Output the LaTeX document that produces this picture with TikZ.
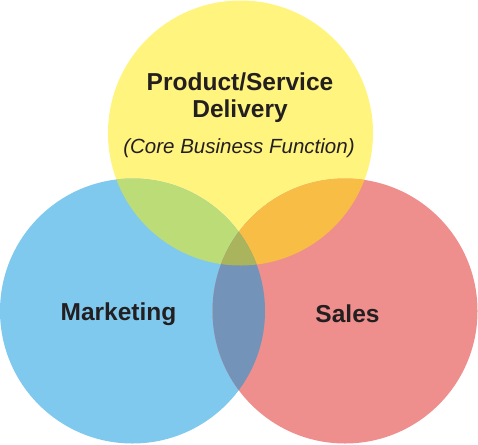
\documentclass[tikz,border=0pt]{standalone}
\usepackage{fontspec}
\setmainfont{Liberation Sans}
\definecolor{cyel}{HTML}{FFF47E}
\definecolor{cblu}{HTML}{7FC9EF}
\definecolor{cred}{HTML}{EE8F8D}
\definecolor{cgrn}{HTML}{BCDC77}
\definecolor{cora}{HTML}{F7BD45}
\definecolor{cslt}{HTML}{7393B8}
\definecolor{cmid}{HTML}{A9B45C}
\definecolor{ctxt}{HTML}{231F20}
\tikzset{lbl/.style={text=ctxt,font=\bfseries\fontsize{24.5}{28}\selectfont,align=center},
sub/.style={text=ctxt,font=\itshape\fontsize{20.5}{24}\selectfont}}
\begin{document}
\begin{tikzpicture}[x=1pt,y=-1pt]
\useasboundingbox (0,0) rectangle (478,444);
\def\R{132.5}
\coordinate (Y) at (240.5,133);
\coordinate (B) at (132.5,311);
\coordinate (S) at (345,311);
\fill[cyel] (Y) circle (\R);
\fill[cblu] (B) circle (\R);
\fill[cred] (S) circle (\R);
\begin{scope}\clip (Y) circle (\R); \fill[cgrn] (B) circle (\R); \end{scope}
\begin{scope}\clip (Y) circle (\R); \fill[cora] (S) circle (\R); \end{scope}
\begin{scope}\clip (B) circle (\R); \fill[cslt] (S) circle (\R); \end{scope}
\begin{scope}\clip (Y) circle (\R); \clip (B) circle (\R); \fill[cmid] (S) circle (\R); \end{scope}
\node[lbl] (pd) at (240,98) {Product/Service\\[-1pt]Delivery};
\node[sub] (core) at (239,148) {(Core Business Function)};
\node[lbl] (mk) at (118.5,314) {Marketing};
\node[lbl] (sl) at (347.5,314) {Sales};
\end{tikzpicture}
\end{document}
